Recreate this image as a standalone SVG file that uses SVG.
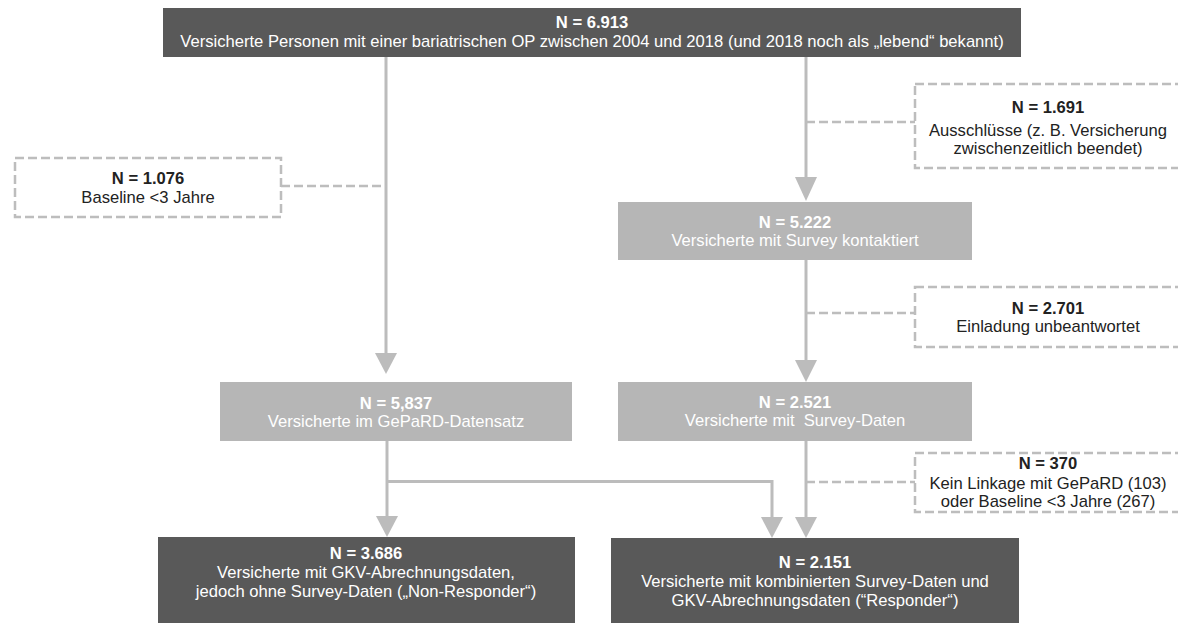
<svg xmlns="http://www.w3.org/2000/svg" width="1178" height="623" viewBox="0 0 1178 623">
<style>
text{font-family:"Liberation Sans",Arial,sans-serif;font-size:16.6px;text-anchor:middle}
.b{font-weight:bold}
.dark rect{fill:#595959}
.dark text{fill:#ffffff}
.light rect{fill:#b6b6b6}
.light text{fill:#ffffff}
.dash rect{fill:#ffffff;stroke:#bdbdbd;stroke-width:2.5;stroke-dasharray:9 4}
.dash text{fill:#222222}
.con{fill:none;stroke:#bcbcbc;stroke-width:3}
.dl{fill:none;stroke:#bdbdbd;stroke-width:2.5;stroke-dasharray:9 4}
.ah{fill:#bcbcbc}
</style>
<rect width="1178" height="623" fill="#ffffff"/>
<g id="connectors">
<path class="con" d="M386 57V354"/>
<polygon class="ah" points="375,353 397,353 386,374"/>
<path class="con" d="M806 57V178"/>
<polygon class="ah" points="795,177 817,177 806,201"/>
<path class="con" d="M806 260V361"/>
<polygon class="ah" points="795,360 817,360 806,382"/>
<path class="con" d="M387 441V517"/>
<polygon class="ah" points="376,516 398,516 387,537"/>
<path class="con" d="M387 481.5H772V518"/>
<polygon class="ah" points="761,517 783,517 772,538"/>
<path class="con" d="M806 441V518"/>
<polygon class="ah" points="795,517 817,517 806,538"/>
<path class="dl" d="M281 186H386"/>
<path class="dl" d="M806 122H915"/>
<path class="dl" d="M806 313H915"/>
<path class="dl" d="M806 482H915"/>
</g>
<g id="n6913" class="dark">
<rect x="163" y="8" width="858" height="49"/>
<text x="592" y="28" class="b">N = 6.913</text>
<text x="592" y="47">Versicherte Personen mit einer bariatrischen OP zwischen 2004 und 2018 (und 2018 noch als „lebend“ bekannt)</text>
</g>
<g id="n1076" class="dash">
<rect x="15" y="158" width="266" height="59"/>
<text x="148" y="184" class="b">N = 1.076</text>
<text x="148" y="203">Baseline &lt;3 Jahre</text>
</g>
<g id="n1691" class="dash">
<rect x="915" y="84" width="266" height="84"/>
<text x="1048" y="113" class="b">N = 1.691</text>
<text x="1048" y="136">Ausschlüsse (z. B. Versicherung</text>
<text x="1048" y="154">zwischenzeitlich beendet)</text>
</g>
<g id="n5222" class="light">
<rect x="618" y="202" width="354" height="58"/>
<text x="795" y="228" class="b">N = 5.222</text>
<text x="795" y="246">Versicherte mit Survey kontaktiert</text>
</g>
<g id="n2701" class="dash">
<rect x="915" y="287" width="266" height="60"/>
<text x="1048" y="314" class="b">N = 2.701</text>
<text x="1048" y="332">Einladung unbeantwortet</text>
</g>
<g id="n5837" class="light">
<rect x="220" y="382" width="352" height="59"/>
<text x="396" y="409" class="b">N = 5,837</text>
<text x="396" y="427">Versicherte im GePaRD-Datensatz</text>
</g>
<g id="n2521" class="light">
<rect x="618" y="382" width="354" height="59"/>
<text x="795" y="408" class="b">N = 2.521</text>
<text x="795" y="426" xml:space="preserve">Versicherte mit  Survey-Daten</text>
</g>
<g id="n370" class="dash">
<rect x="915" y="453" width="266" height="59"/>
<text x="1048" y="469" class="b">N = 370</text>
<text x="1048" y="489">Kein Linkage mit GePaRD (103)</text>
<text x="1048" y="507">oder Baseline &lt;3 Jahre (267)</text>
</g>
<g id="n3686" class="dark">
<rect x="158" y="537" width="417" height="90"/>
<text x="366" y="559" class="b">N = 3.686</text>
<text x="366" y="578">Versicherte mit GKV-Abrechnungsdaten,</text>
<text x="366" y="597">jedoch ohne Survey-Daten („Non-Responder“)</text>
</g>
<g id="n2151" class="dark">
<rect x="611" y="538" width="408" height="90"/>
<text x="815" y="568" class="b">N = 2.151</text>
<text x="815" y="587">Versicherte mit kombinierten Survey-Daten und</text>
<text x="815" y="606">GKV-Abrechnungsdaten (“Responder“)</text>
</g>
</svg>
